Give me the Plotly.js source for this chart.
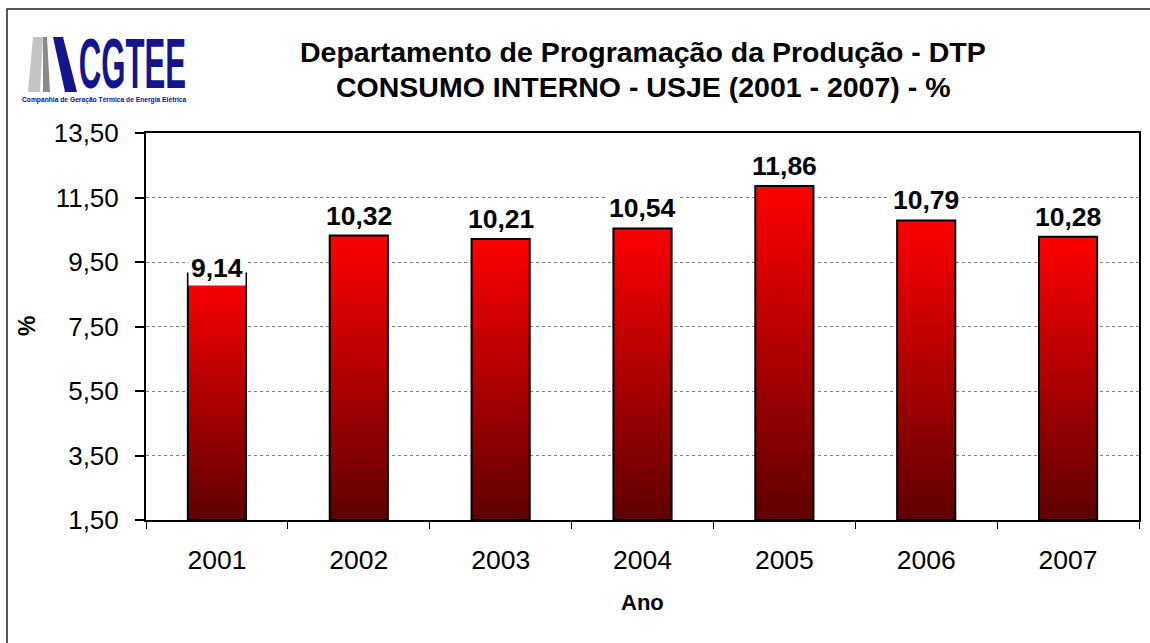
<!DOCTYPE html>
<html><head><meta charset="utf-8">
<script src="https://cdn.plot.ly/plotly-3.0.1.min.js"></script>
<style>html,body{margin:0;padding:0;background:#fff}#chart{width:1150px;height:643px}</style>
</head><body><div id="chart"></div>
<script>
// ---- data ----
const years = ['2001', '2002', '2003', '2004', '2005', '2006', '2007'];
const consumo = [9.14, 10.32, 10.21, 10.54, 11.86, 10.79, 10.28];
const yTickStart = 1.5, yTickEnd = 13.5, yTickStep = 2;
const titleLine1 = 'Departamento de Programação da Produção - DTP';
const titleLine2 = 'CONSUMO INTERNO - USJE (2001 - 2007) - %';
const logoText = 'CGTEE';
const logoSub = 'Companhia de Geração Térmica de Energia Elétrica';

// ---- style ----
const labelYShift = [6, 20, 20, 20, 20, 20, 20];
const barHalf = 0.205;
const W = 1150, H = 643, L = 146, R = 11, T = 133, B = 123;
const pw = W - L - R, ph = H - T - B;
const px = x => (x - L) / pw;
const py = y => (H - B - y) / ph;
const FONT = 'Liberation Sans, Arial, sans-serif';

const fmt = v => v.toFixed(2).replace('.', ',');

const traces = consumo.map((v, i) => ({
  type: 'scatter', mode: 'lines',
  x: [i - barHalf, i - barHalf, i + barHalf, i + barHalf, i - barHalf],
  y: [yTickStart, v, v, yTickStart, yTickStart],
  fill: 'toself',
  fillgradient: {type: 'vertical', colorscale: [[0, '#5e0000'], [1, '#ff0000']]},
  line: {color: '#000', width: 2},
  hoverinfo: 'skip', showlegend: false
}));

const annotations = consumo.map((v, i) => ({
  x: i, y: v, xref: 'x', yref: 'y', text: '<b>' + fmt(v) + '</b>',
  showarrow: false, yanchor: 'middle', xanchor: 'center', yshift: labelYShift[i],
  font: {family: FONT, size: 26.5, color: '#000'}, bgcolor: '#fff', borderpad: 2
}));

annotations.push(
  {xref: 'paper', yref: 'paper', x: 0.5, y: py(52), text: '<b>' + titleLine1 + '</b>', showarrow: false,
   xanchor: 'center', yanchor: 'middle', font: {family: FONT, size: 28.5, color: '#000'}},
  {xref: 'paper', yref: 'paper', x: 0.5, y: py(87), text: '<b>' + titleLine2 + '</b>', showarrow: false,
   xanchor: 'center', yanchor: 'middle', font: {family: FONT, size: 28.5, color: '#000'}},
  {xref: 'paper', yref: 'paper', x: px(27), y: py(326), text: '<b>%</b>', showarrow: false, textangle: -90,
   xanchor: 'center', yanchor: 'middle', font: {family: FONT, size: 23, color: '#000'}},
  {xref: 'paper', yref: 'paper', x: 0.5, y: py(602), text: '<b>Ano</b>', showarrow: false,
   xanchor: 'center', yanchor: 'middle', font: {family: FONT, size: 22, color: '#000'}},
  {xref: 'paper', yref: 'paper', x: px(132), y: py(64), text: '<b>' + logoText + '</b>', showarrow: false,
   xanchor: 'center', yanchor: 'middle', font: {family: FONT, size: 38, color: '#14148c'}},
  {xref: 'paper', yref: 'paper', x: px(104), y: py(100), text: '<b>' + logoSub + '</b>', showarrow: false,
   xanchor: 'center', yanchor: 'middle', font: {family: FONT, size: 6.7, color: '#14148c'}}
);

const poly = pts => 'M ' + pts.map(p => px(p[0]) + ',' + py(p[1])).join(' L ') + ' Z';
const shapes = [
  {type: 'rect', xref: 'paper', yref: 'paper', x0: px(7), x1: px(1165), y0: py(660), y1: py(9),
   line: {color: '#222', width: 1.5}, layer: 'below'},
  {type: 'path', xref: 'paper', yref: 'paper', path: poly([[33, 37], [43, 37], [40, 92], [28, 92]]),
   fillcolor: '#c4c4c4', line: {width: 0}},
  {type: 'path', xref: 'paper', yref: 'paper', path: poly([[43, 37], [47, 37], [50, 92], [43, 92]]),
   fillcolor: '#8a8a8a', line: {width: 0}},
  {type: 'path', xref: 'paper', yref: 'paper', path: poly([[53, 37], [63, 37], [77, 92], [65, 92]]),
   fillcolor: '#14148c', line: {width: 0}}
];

const minorVals = years.map((_, i) => i - 0.5).concat([years.length - 0.5]);

const layout = {
  width: W, height: H,
  margin: {l: L, r: R, t: T, b: B, pad: 0},
  paper_bgcolor: '#fff', plot_bgcolor: '#fff',
  separators: ', ',
  font: {family: FONT, color: '#000', size: 25},
  showlegend: false,
  xaxis: {
    range: [-0.5, years.length - 0.5], tickmode: 'array',
    tickvals: years.map((_, i) => i), ticktext: years,
    ticks: '', showgrid: false, zeroline: false,
    showline: true, mirror: true, linecolor: '#000', linewidth: 2,
    tickfont: {family: FONT, size: 26.5, color: '#000'}, ticklabelstandoff: 15,
    minor: {tickmode: 'array', tickvals: minorVals, ticks: 'outside', ticklen: 7, tickwidth: 1, tickcolor: '#000', showgrid: false},
    fixedrange: true
  },
  yaxis: {
    range: [yTickStart, yTickEnd], tickmode: 'linear', tick0: yTickStart, dtick: yTickStep,
    tickformat: '.2f', ticks: 'outside', ticklen: 9, tickwidth: 2, tickcolor: '#000',
    showgrid: true, gridcolor: '#808080', griddash: 'dot', gridwidth: 1, zeroline: false,
    showline: true, mirror: true, linecolor: '#000', linewidth: 2,
    tickfont: {family: FONT, size: 26, color: '#000'}, ticklabelstandoff: 11,
    fixedrange: true
  },
  annotations: annotations,
  shapes: shapes
};

Plotly.newPlot('chart', traces, layout, {displayModeBar: false, staticPlot: true}).then(() => {
  document.querySelectorAll('.annotation-text').forEach(t => {
    if (t.textContent === logoText) {
      t.style.transformBox = 'fill-box';
      t.style.transformOrigin = '50% 50%';
      t.style.transform = 'scale(0.82, 1.85)';
    }
  });
});
</script>
</body></html>
